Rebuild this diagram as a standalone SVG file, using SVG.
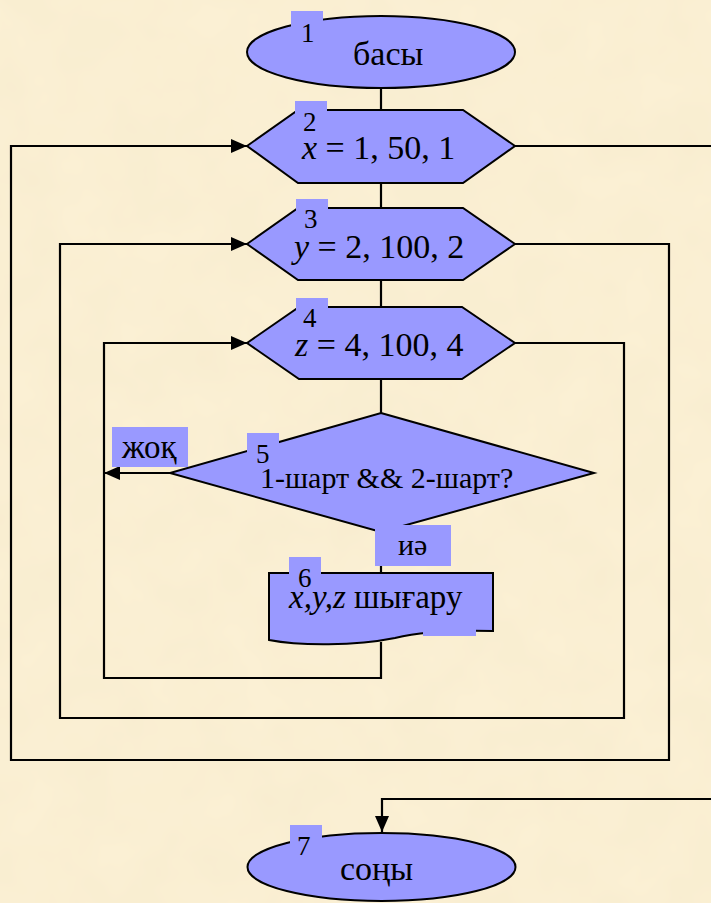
<svg xmlns="http://www.w3.org/2000/svg" width="711" height="903" viewBox="0 0 711 903">
<style>
.shape{fill:#9999FF;stroke:#000;stroke-width:2;stroke-linejoin:miter}
.nb{fill:#9999FF;stroke:none}
.line{fill:none;stroke:#000;stroke-width:2.2}
.t{font-family:"Liberation Serif","Times New Roman",serif;font-size:30px;fill:#000}
.big{font-size:34px}
.mid{font-size:33px}
.n{font-family:"Liberation Serif","Times New Roman",serif;font-size:27px;fill:#000}
.i{font-style:italic}
</style>
<defs>
<marker id="arr" markerUnits="userSpaceOnUse" markerWidth="16" markerHeight="14" refX="16" refY="7" orient="auto">
<path d="M0,0 L16,7 L0,14 Z" fill="#000"/>
</marker>
<filter id="paper" x="0" y="0" width="100%" height="100%">
<feTurbulence type="fractalNoise" baseFrequency="0.018" numOctaves="3" seed="7"/>
<feColorMatrix type="matrix" values="0 0 0 0 0.90  0 0 0 0 0.80  0 0 0 0 0.58  0 0 0 0.5 -0.1"/>
</filter>
</defs>
<rect width="711" height="903" fill="#FBF0D4"/>
<rect width="711" height="903" filter="url(#paper)"/>

<g id="connectors">
<line class="line" x1="381" y1="88" x2="381" y2="110"/>
<line class="line" x1="381" y1="183" x2="381" y2="208"/>
<line class="line" x1="381" y1="280" x2="381" y2="307"/>
<line class="line" x1="381" y1="379" x2="381" y2="413"/>
<line class="line" x1="381" y1="532" x2="381" y2="573"/>
<polyline class="line" points="381,642 381,678 104,678 104,343 247,343" marker-end="url(#arr)"/>
<line class="line" x1="170" y1="473" x2="104" y2="473" marker-end="url(#arr)"/>
<polyline class="line" points="515,343 624,343 624,718 60,718 60,244 247,244" marker-end="url(#arr)"/>
<polyline class="line" points="515,244 669,244 669,760 11,760 11,146 247,146" marker-end="url(#arr)"/>
<line class="line" x1="515" y1="146" x2="711" y2="146"/>
<polyline class="line" points="711,799 382,799 382,832" marker-end="url(#arr)"/>
</g>

<g id="node1">
<ellipse class="shape" cx="381" cy="52" rx="134" ry="36"/>
<rect class="nb" x="291" y="11" width="32" height="30"/>
<text class="n" x="301" y="42">1</text>
<text class="t big" x="353" y="65">басы</text>
</g>

<g id="node2">
<polygon class="shape" points="247,146 298,110 463,110 515,146 463,183 298,183"/>
<rect class="nb" x="295" y="101" width="32" height="30"/>
<text class="n" x="303" y="131">2</text>
<text class="t big" x="302" y="159"><tspan class="i">x</tspan> = 1, 50, 1</text>
</g>

<g id="node3">
<polygon class="shape" points="247,244 298,208 463,208 515,244 463,280 298,280"/>
<rect class="nb" x="296" y="199" width="32" height="30"/>
<text class="n" x="304" y="228">3</text>
<text class="t big" x="294" y="258"><tspan class="i">y</tspan> = 2, 100, 2</text>
</g>

<g id="node4">
<polygon class="shape" points="247,343 299,307 462,307 515,343 462,379 299,379"/>
<rect class="nb" x="296" y="298" width="32" height="30"/>
<text class="n" x="303" y="327">4</text>
<text class="t big" x="295" y="356"><tspan class="i">z</tspan> = 4, 100, 4</text>
</g>

<g id="node5">
<polygon class="shape" points="381,413 594,473 381,532 170,473"/>
<rect class="nb" x="247" y="433" width="32" height="30"/>
<text class="n" x="256" y="463">5</text>
<text class="t" x="260" y="488">1-шарт &amp;&amp; 2-шарт?</text>
</g>

<g id="label-no">
<rect class="nb" x="112" y="427" width="76" height="40"/>
<text class="t mid" x="122" y="458">жоқ</text>
</g>

<g id="label-yes">
<rect class="nb" x="375" y="525" width="76" height="41"/>
<text class="t" x="398" y="555">иә</text>
</g>

<g id="node6">
<path class="shape" d="M269,573 L493,573 L493,631 C455,630 420,632 395,638 C355,646 300,646 269,640 Z"/>
<rect class="nb" x="423" y="629" width="53" height="7"/>
<rect class="nb" x="289" y="557" width="32" height="30"/>
<text class="n" x="298" y="587">6</text>
<text class="t mid" x="289" y="608"><tspan class="i">x,y,z</tspan> шығару</text>
</g>

<g id="node7">
<ellipse class="shape" cx="381.5" cy="867" rx="134" ry="34"/>
<rect class="nb" x="290" y="825" width="32" height="30"/>
<text class="n" x="297" y="855">7</text>
<text class="t big" x="340" y="880">соңы</text>
</g>
</svg>
